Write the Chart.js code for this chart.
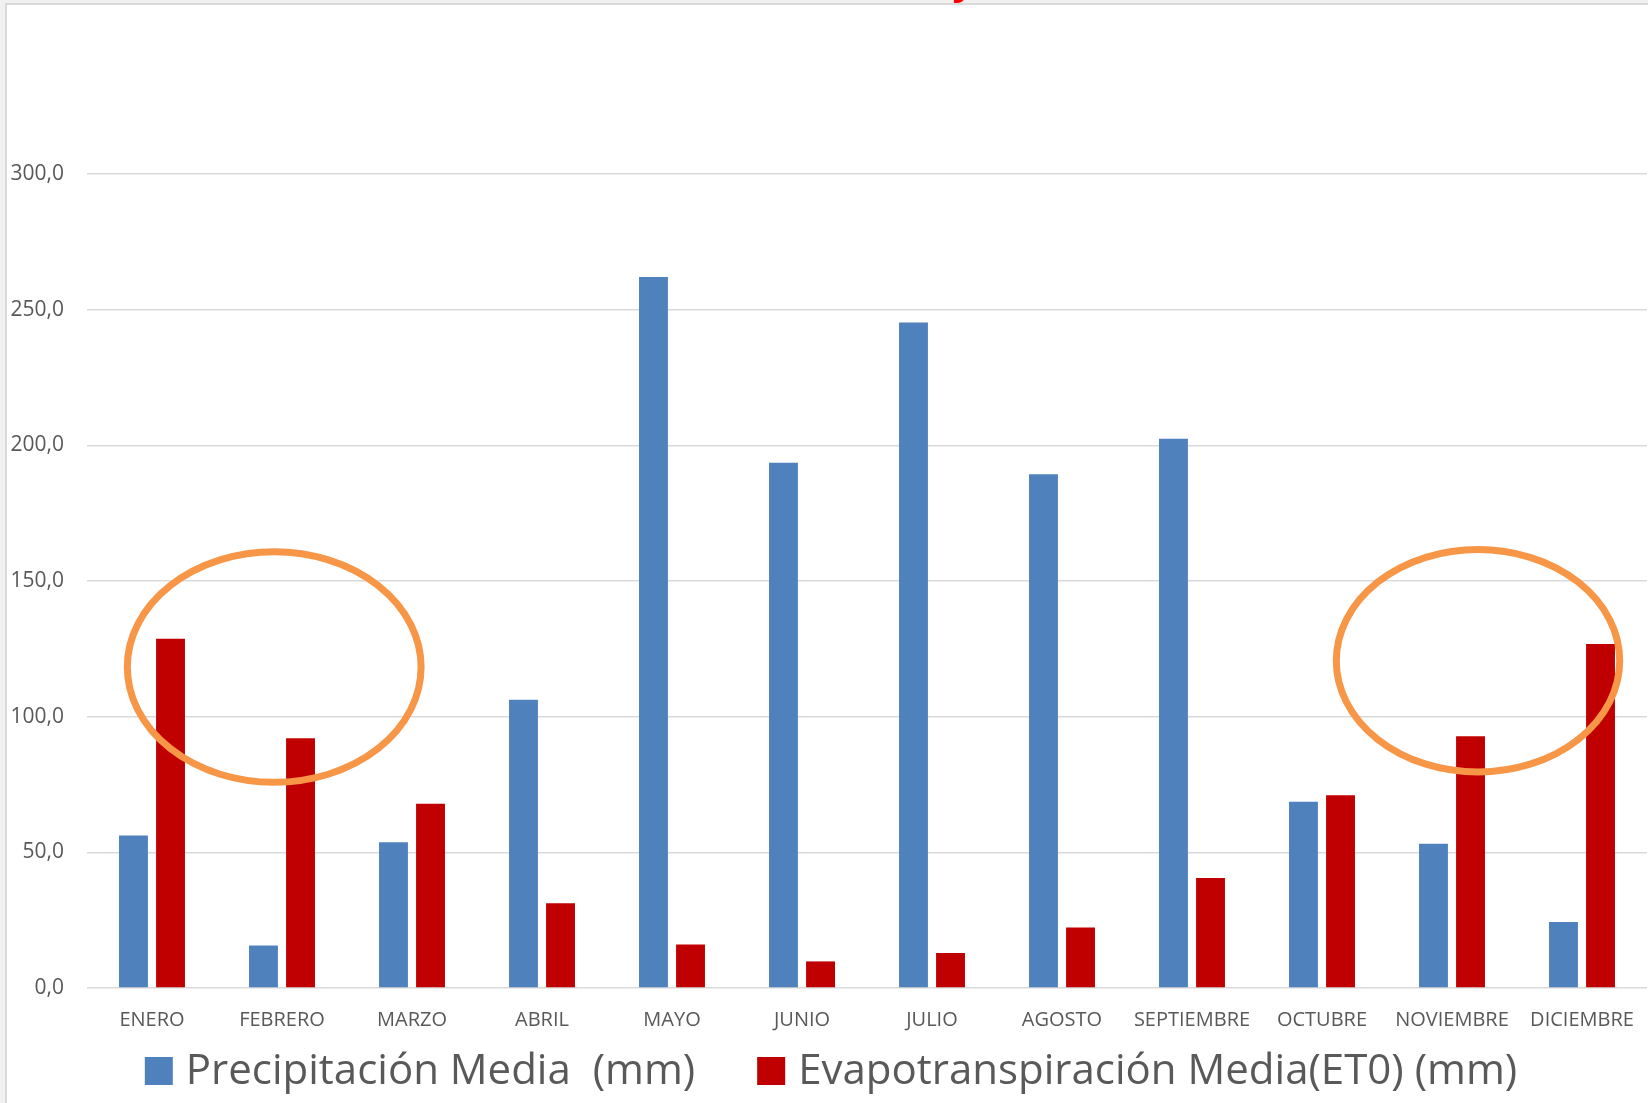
<!DOCTYPE html>
<html lang="es">
<head>
<meta charset="utf-8">
<title>Precipitación y Evapotranspiración</title>
<script src="https://cdn.jsdelivr.net/npm/chart.js"></script>
<style>
  html, body { margin: 0; padding: 0; background: #f0f0f0; overflow: hidden; }
  #marco { position: absolute; left: 5px; top: 3px; width: 1700px; height: 1200px; background: #fff; border: 2px solid #d9d9d9; }
  #grafico { position: absolute; left: 0; top: 0; }
</style>
</head>
<body>
<div id="marco"></div>
<canvas id="grafico" width="1648" height="1103"></canvas>
<script>
// --- DATOS ---
const meses = ['ENERO', 'FEBRERO', 'MARZO', 'ABRIL', 'MAYO', 'JUNIO', 'JULIO', 'AGOSTO', 'SEPTIEMBRE', 'OCTUBRE', 'NOVIEMBRE', 'DICIEMBRE'];
const precipitacion = [56.2, 15.7, 53.7, 106.2, 262.0, 193.6, 245.3, 189.3, 202.4, 68.6, 53.2, 24.3];
const evapotranspiracion = [128.7, 92.0, 67.9, 31.2, 16.0, 9.8, 12.9, 22.3, 40.5, 71.0, 92.8, 126.8];
const ticksY = [0, 50, 100, 150, 200, 250, 300];

// elipses naranjas resaltando los meses secos (en unidades de datos: índice de mes / mm)
const elipseCentroX = [0.94, 10.2];
const elipseCentroY = [118.3, 120.6];
const elipseRadioX = [1.13, 1.09];
const elipseRadioY = [42.5, 41];

const fmt = (v) => v.toFixed(1).replace('.', ',');

document.addEventListener('DOMContentLoaded', function() {
    Chart.defaults.font.family = "'Open Sans', sans-serif";
    Chart.defaults.color = '#595959';

    // elipses + trozo del título que asoma arriba
    const anotaciones = {
        id: 'anotaciones',
        afterDatasetsDraw(chart) {
            const ctx = chart.ctx, x = chart.scales.x, y = chart.scales.y;
            ctx.save();
            ctx.strokeStyle = '#f79646';
            ctx.lineWidth = 7;
            elipseCentroX.forEach((cx, i) => {
                const px = x.getPixelForValue(cx), py = y.getPixelForValue(elipseCentroY[i]);
                const rx = x.getPixelForValue(cx + elipseRadioX[i]) - px;
                const ry = py - y.getPixelForValue(elipseCentroY[i] + elipseRadioY[i]);
                ctx.beginPath();
                ctx.ellipse(px, py, rx, ry, 0, 0, Math.PI * 2);
                ctx.stroke();
            });
            // título cortado: sólo se ve el rabo de la "y"
            ctx.fillStyle = '#ff0000';
            ctx.font = "bold 40px 'Open Sans', sans-serif";
            ctx.textAlign = 'center';
            ctx.textBaseline = 'alphabetic';
            ctx.fillText('y', 964, -6);
            ctx.restore();
        }
    };

    // leyenda a mano (cuadro 28px, texto grande, separación como en Excel)
    const leyenda = {
        id: 'leyenda',
        afterDraw(chart) {
            const ctx = chart.ctx;
            const caja = 28, hueco = 13, entre = 62, yMedio = 1071;
            ctx.save();
            ctx.font = "42px 'Open Sans', sans-serif";
            ctx.textBaseline = 'middle';
            ctx.textAlign = 'left';
            const items = chart.data.datasets.map(d => ({ texto: d.label, color: d.backgroundColor, w: ctx.measureText(d.label).width }));
            const total = items.reduce((s, it) => s + caja + hueco + it.w, 0) + entre * (items.length - 1);
            let x = chart.width / 2 + 7 - total / 2;
            items.forEach(it => {
                ctx.fillStyle = it.color;
                ctx.fillRect(x, yMedio - caja / 2, caja, caja);
                ctx.fillStyle = '#595959';
                ctx.fillText(it.texto, x + caja + hueco, yMedio + 1);
                x += caja + hueco + it.w + entre;
            });
            ctx.restore();
        }
    };

    new Chart(document.getElementById('grafico').getContext('2d'), {
        type: 'bar',
        data: {
            labels: meses,
            datasets: [
                { label: 'Precipitación Media  (mm)', data: precipitacion, backgroundColor: '#4f81bd', categoryPercentage: 0.57, barPercentage: 0.78 },
                { label: 'Evapotranspiración Media(ET0) (mm)', data: evapotranspiracion, backgroundColor: '#c00000', categoryPercentage: 0.57, barPercentage: 0.78 }
            ]
        },
        options: {
            responsive: false,
            animation: false,
            layout: { padding: { top: 174, left: 0, right: 1, bottom: 59 } },
            plugins: {
                tooltip: { enabled: false },
                title: { display: false },
                legend: { display: false }
            },
            scales: {
                x: {
                    grid: { display: false },
                    border: { display: false },
                    ticks: { padding: 12, font: { size: 20 }, color: '#595959', maxRotation: 0, autoSkip: false }
                },
                y: {
                    min: 0, max: 300,
                    afterBuildTicks: (s) => { s.ticks = ticksY.map(v => ({ value: v })); },
                    afterFit: (s) => { s.width = 87; },
                    grid: { color: '#d9d9d9', lineWidth: 1.5, drawTicks: false },
                    border: { display: false },
                    ticks: { padding: 23, font: { size: 21 }, color: '#595959', callback: (v) => fmt(v) }
                }
            }
        },
        plugins: [anotaciones, leyenda]
    });
});
</script>
</body>
</html>
